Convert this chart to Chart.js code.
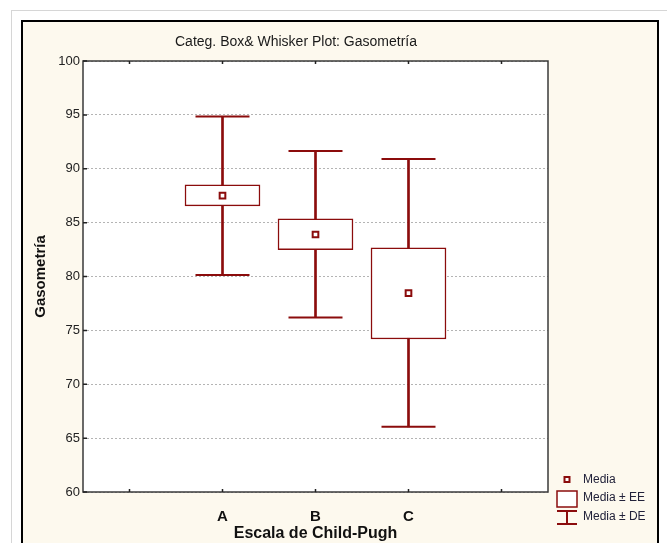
<!DOCTYPE html>
<html><head><meta charset="utf-8">
<script src="https://cdn.jsdelivr.net/npm/chart.js@4.4.0/dist/chart.umd.min.js"></script>
<style>
html,body{margin:0;padding:0;background:#fff;width:667px;height:543px;overflow:hidden}
#outer{position:absolute;left:11px;top:10px;width:680px;height:560px;border:1px solid #d6d6d6;}
#frame{position:absolute;left:21px;top:20px;width:634px;height:540px;border:2px solid #000;background:#fdf9ee;}
#wrap{position:absolute;left:0;top:0;width:667px;height:543px}
</style></head>
<body>
<div id="outer"></div><div id="frame"></div>
<div id="wrap"><canvas id="c" width="667" height="543"></canvas></div>
<script>
const categories = ['A', 'B', 'C'];
const means  = [87.5, 83.9, 78.45];
const seLow  = [86.55, 82.5, 74.2];
const seHigh = [88.5, 85.35, 82.65];
const sdLow  = [80.15, 76.2, 66.05];
const sdHigh = [94.85, 91.65, 90.9];
const yMin = 60, yMax = 100, yStep = 5;
const chartTitle = 'Categ. Box& Whisker Plot: Gasometría';
const xTitle = 'Escala de Child-Pugh';
const yTitle = 'Gasometría';
const legendLabels = ['Media', 'Media ± EE', 'Media ± DE'];

const RED = '#8b0c0c';
const FONT = '"Liberation Sans", Arial, sans-serif';
const labels = ['', ...categories, ''];
const pad = a => [null, ...a, null];

const deco = {
  id: 'deco',
  beforeDraw(chart) {
    const {ctx, chartArea: a} = chart;
    ctx.save();
    ctx.fillStyle = '#fff';
    ctx.fillRect(a.left, a.top, a.right - a.left, a.bottom - a.top);
    ctx.restore();
  },
  afterDraw(chart) {
    const {ctx, chartArea: a, scales} = chart;
    ctx.save();
    ctx.strokeStyle = '#3a3a3a';
    ctx.lineWidth = 1.5;
    ctx.strokeRect(a.left, a.top, a.right - a.left, a.bottom - a.top);
    ctx.strokeStyle = '#222';
    ctx.lineWidth = 1.5;
    ctx.beginPath();
    scales.y.ticks.forEach((t, i) => {
      const y = scales.y.getPixelForTick(i);
      ctx.moveTo(a.left, y); ctx.lineTo(a.left + 4, y);
    });
    scales.x.ticks.forEach((t, i) => {
      const x = scales.x.getPixelForTick(i);
      ctx.moveTo(x, a.bottom); ctx.lineTo(x, a.bottom - 3);
      ctx.moveTo(x, a.top); ctx.lineTo(x, a.top + 3);
    });
    ctx.stroke();
    ctx.fillStyle = '#1a1a1a';
    ctx.font = '14px ' + FONT;
    ctx.textAlign = 'center';
    ctx.textBaseline = 'middle';
    ctx.fillText(chartTitle, 296, 42);
    const lx = a.right + 19, tx = a.right + 35;
    ctx.strokeStyle = RED;
    ctx.fillStyle = '#fff';
    ctx.lineWidth = 2;
    ctx.fillRect(lx - 2.5, 477, 5, 5);
    ctx.strokeRect(lx - 2.5, 477, 5, 5);
    ctx.lineWidth = 1.5;
    ctx.fillRect(lx - 10, 491, 20, 16);
    ctx.strokeRect(lx - 10, 491, 20, 16);
    ctx.lineWidth = 2;
    ctx.beginPath();
    ctx.moveTo(lx - 10, 511); ctx.lineTo(lx + 10, 511);
    ctx.moveTo(lx, 511); ctx.lineTo(lx, 524);
    ctx.moveTo(lx - 10, 524); ctx.lineTo(lx + 10, 524);
    ctx.stroke();
    ctx.fillStyle = '#22223a';
    ctx.font = '12px ' + FONT;
    ctx.textAlign = 'left';
    ctx.fillText(legendLabels[0], tx, 480);
    ctx.fillText(legendLabels[1], tx, 498);
    ctx.fillText(legendLabels[2], tx, 517);
    ctx.restore();
  }
};

new Chart(document.getElementById('c'), {
  type: 'bar',
  data: {
    labels,
    datasets: [
      {type: 'line', label: legendLabels[0], data: pad(means), showLine: false,
       pointStyle: 'rect', pointRadius: 4, pointBorderWidth: 2,
       pointBackgroundColor: '#fff', pointBorderColor: RED, order: 1},
      {type: 'line', label: 'sdHigh', data: pad(sdHigh), showLine: false,
       pointStyle: 'line', pointRadius: 27, pointBorderWidth: 2, pointBorderColor: RED, order: 1},
      {type: 'line', label: 'sdLow', data: pad(sdLow), showLine: false,
       pointStyle: 'line', pointRadius: 27, pointBorderWidth: 2, pointBorderColor: RED, order: 1},
      {type: 'bar', label: legendLabels[1], data: pad(categories.map((c, i) => [seLow[i], seHigh[i]])),
       backgroundColor: '#fff', borderColor: RED, borderWidth: 1.5, borderSkipped: false,
       barThickness: 75, grouped: false, order: 2},
      {type: 'bar', label: legendLabels[2], data: pad(categories.map((c, i) => [sdLow[i], sdHigh[i]])),
       backgroundColor: RED, borderWidth: 0, barThickness: 2, grouped: false, order: 3}
    ]
  },
  options: {
    responsive: false,
    animation: false,
    layout: {padding: {left: 23, right: 119, top: 61, bottom: 0}},
    plugins: {legend: {display: false}, tooltip: {enabled: false}, title: {display: false}},
    scales: {
      x: {
        offset: true,
        grid: {display: false, offset: false},
        border: {display: false},
        ticks: {font: {family: FONT, size: 15, weight: 'bold'}, color: '#111', padding: 8},
        title: {display: true, text: xTitle, font: {family: FONT, size: 16, weight: 'bold'}, color: '#111', padding: 0},
        afterFit(s) { s.height = 51; }
      },
      y: {
        min: yMin, max: yMax,
        ticks: {stepSize: yStep, font: {family: FONT, size: 13}, color: '#222', padding: 3},
        grid: {color: '#b4b4b4', lineWidth: 1, tickLength: 0},
        border: {display: false, dash: [2, 2]},
        title: {display: true, text: yTitle, font: {family: FONT, size: 15, weight: 'bold'}, color: '#111', padding: {top: 9, bottom: 0}},
        afterFit(s) { s.width = 60; }
      }
    }
  },
  plugins: [deco]
});
</script>
</body></html>
